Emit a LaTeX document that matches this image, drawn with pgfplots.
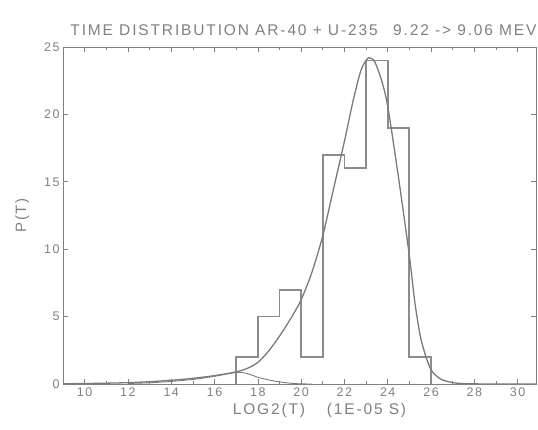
\documentclass[border=0pt]{standalone}
\usepackage{pgfplots}
\pgfplotsset{compat=1.18}
\usepackage{fontspec}
\setmainfont{Liberation Sans}
\newfontfamily\plotfont[LetterSpace=12]{Liberation Sans}
\definecolor{ink}{HTML}{808080}
\definecolor{histc}{HTML}{8C8C8C}
\definecolor{curvec}{HTML}{7A7A7A}
\begin{document}
\begin{tikzpicture}
\begin{axis}[
  name=ax,
  scale only axis,
  width=473pt, height=337pt,
  xmin=9, xmax=30.85, ymin=0, ymax=25,
  xtick={10,12,...,30},
  minor xtick={9,11,...,29},
  ytick={0,5,...,25},
  tick align=inside,
  major tick length=5pt, minor tick length=3pt,
  axis line style={ink, line width=0.6pt},
  every tick/.style={ink, line width=0.6pt},
  tick label style={font=\plotfont\fontsize{12.5}{13}\selectfont, text=ink},
  /pgf/number format/assume math mode=true,
  xlabel={LOG2(T)\quad\ (1E-05 S)},
  ylabel={P(T)},
  xlabel style={font=\plotfont\fontsize{15.5}{17}\selectfont, text=ink, xshift=20pt},
  ylabel style={font=\plotfont\fontsize{15}{17}\selectfont, text=ink, yshift=8pt},
  title={TIME DISTRIBUTION AR-40 + U-235\quad 9.22 -> 9.06 MEV},
  title style={font=\plotfont\fontsize{15.5}{17}\selectfont, text=ink, yshift=2pt, xshift=4pt},
  clip=true,
]
\addplot[histc, line width=1.8pt] coordinates {
 (17,0)(17,2)(18,2)(18,5)(19,5)(19,7)(20,7)(20,2)(21,2)(21,17)(22,17)(22,16)(23,16)(23,24)(24,24)(24,19)(25,19)(25,2)(26,2)(26,0)
};
\addplot[curvec, line width=1.3pt, smooth, tension=0.5] coordinates {
 (9,0.02)(10,0.035)(11,0.06)(12,0.1)(13,0.17)(14,0.28)(15,0.42)(16,0.62)(17,0.9)
 (17.5,1.15)(18,1.6)(18.5,2.45)(19,3.55)(19.5,4.8)(20,6.25)(20.5,8.3)(21,11.0)(21.5,14.5)
 (22,18.0)(22.4,21.0)(22.75,23.2)(23,24.0)(23.15,24.2)(23.4,23.9)(23.7,22.6)(24,20.6)
 (24.5,15.3)(25,9.5)(25.25,6.1)(25.5,3.6)(25.75,2.1)(26,1.05)(26.25,0.6)(26.5,0.32)
 (27,0.1)(27.5,0.03)(28,0.01)(29,0)(30.85,0)
};
\addplot[curvec, line width=0.9pt, smooth, tension=0.5] coordinates {
 (12,0.04)(13,0.09)(14,0.19)(15,0.34)(16,0.57)(16.6,0.75)(17.1,0.87)(17.5,0.78)(18,0.5)(18.5,0.3)(19,0.16)(19.5,0.06)(20,0.01)(20.5,0)
};
\end{axis}
\pgfresetboundingbox
\path ([xshift=-63pt,yshift=-46pt]ax.south west) rectangle ([xshift=2pt,yshift=47pt]ax.north east);
\end{tikzpicture}
\end{document}
